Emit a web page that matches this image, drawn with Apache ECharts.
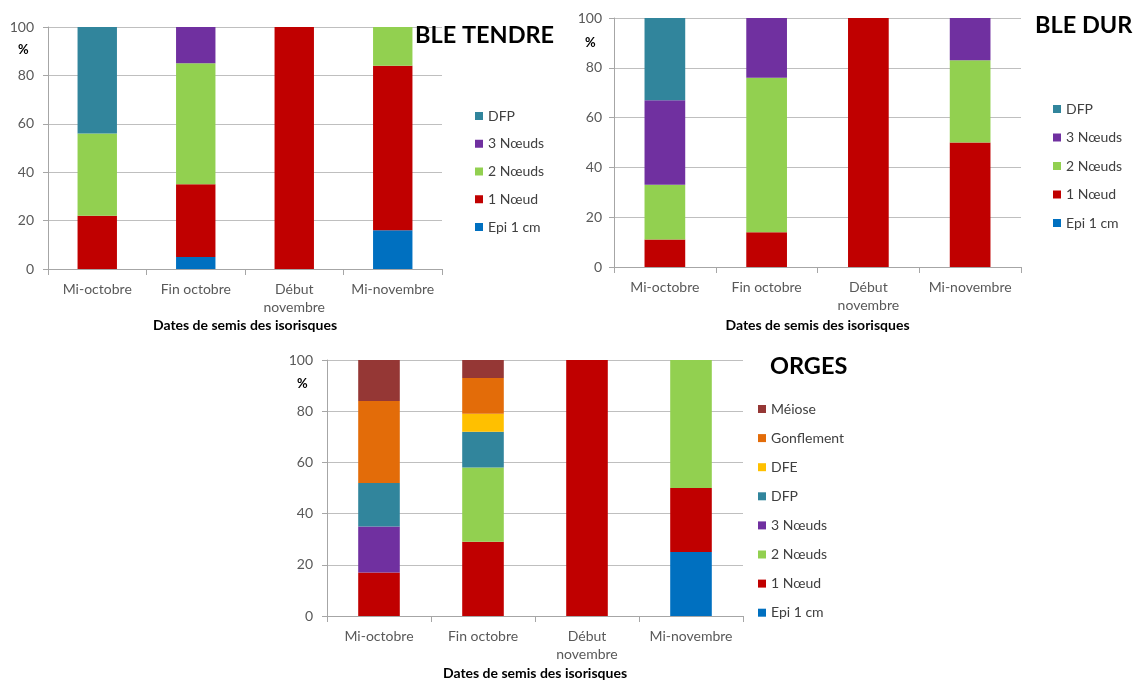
<!DOCTYPE html>
<html><head><meta charset="utf-8">
<script src="https://cdn.jsdelivr.net/npm/echarts@6/dist/echarts.min.js"></script>
<style>html,body{margin:0;padding:0;background:#fff}#c{width:1136px;height:681px}</style>
</head><body><div id="c"></div>
<script>
const categories = ['Mi-octobre', 'Fin octobre', 'Début\nnovembre', 'Mi-novembre'];
const yTicks = [0, 20, 40, 60, 80, 100];

// BLE TENDRE
const bt_epi = [0, 5, 0, 16];
const bt_n1 = [22, 30, 100, 68];
const bt_n2 = [34, 50, 0, 16];
const bt_n3 = [0, 15, 0, 0];
const bt_dfp = [44, 0, 0, 0];

// BLE DUR
const bd_epi = [0, 0, 0, 0];
const bd_n1 = [11, 14, 100, 50];
const bd_n2 = [22, 62, 0, 33];
const bd_n3 = [34, 24, 0, 17];
const bd_dfp = [33, 0, 0, 0];

// ORGES
const or_epi = [0, 0, 0, 25];
const or_n1 = [17, 29, 100, 25];
const or_n2 = [0, 29, 0, 50];
const or_n3 = [18, 0, 0, 0];
const or_dfp = [17, 14, 0, 0];
const or_dfe = [0, 7, 0, 0];
const or_gonf = [32, 14, 0, 0];
const or_meiose = [16, 7, 0, 0];

const colors = {
  'Epi 1 cm': '#0070C0', '1 Nœud': '#C00000', '2 Nœuds': '#92D050', '3 Nœuds': '#7030A0',
  'DFP': '#31859C', 'DFE': '#FFC000', 'Gonflement': '#E36C09', 'Méiose': '#953735'
};

const FONT = 'Lato, "Open Sans", sans-serif';
const grids = [
  {left: 48, top: 27, width: 394, height: 242},
  {left: 614, top: 18, width: 407, height: 249},
  {left: 327, top: 360, width: 416, height: 256}
];
const yLabelMargins = [14, 12, 14];
const nameGaps = [49, 51, 50];

function mkSeries(name, data, idx) {
  return {
    type: 'bar', name: name, data: data.map(v => v === 0 ? null : v),
    stack: 's' + idx, xAxisIndex: idx, yAxisIndex: idx,
    barWidth: '40%', itemStyle: {color: colors[name]}, emphasis: {disabled: true}
  };
}

const series = [
  mkSeries('Epi 1 cm', bt_epi, 0), mkSeries('1 Nœud', bt_n1, 0), mkSeries('2 Nœuds', bt_n2, 0),
  mkSeries('3 Nœuds', bt_n3, 0), mkSeries('DFP', bt_dfp, 0),
  mkSeries('Epi 1 cm', bd_epi, 1), mkSeries('1 Nœud', bd_n1, 1), mkSeries('2 Nœuds', bd_n2, 1),
  mkSeries('3 Nœuds', bd_n3, 1), mkSeries('DFP', bd_dfp, 1),
  mkSeries('Epi 1 cm', or_epi, 2), mkSeries('1 Nœud', or_n1, 2), mkSeries('2 Nœuds', or_n2, 2),
  mkSeries('3 Nœuds', or_n3, 2), mkSeries('DFP', or_dfp, 2), mkSeries('DFE', or_dfe, 2),
  mkSeries('Gonflement', or_gonf, 2), mkSeries('Méiose', or_meiose, 2)
];

const xAxes = grids.map((g, i) => ({
  type: 'category', gridIndex: i, data: categories,
  axisLine: {lineStyle: {color: '#A6A6A6'}},
  axisTick: {show: true, length: 6, lineStyle: {color: '#A6A6A6'}},
  axisLabel: {color: '#595959', fontSize: 14, fontFamily: FONT, margin: 11, lineHeight: 18, interval: 0},
  name: 'Dates de semis des isorisques', nameLocation: 'middle', nameGap: nameGaps[i],
  nameTextStyle: {fontWeight: 'bold', fontSize: 14, color: '#000', fontFamily: FONT}
}));
const yAxes = grids.map((g, i) => ({
  type: 'value', gridIndex: i, min: yTicks[0], max: yTicks[yTicks.length - 1], interval: 20,
  axisLine: {show: true, lineStyle: {color: '#A6A6A6'}},
  axisTick: {show: true, length: 5, lineStyle: {color: '#A6A6A6'}},
  splitLine: {lineStyle: {color: '#BFBFBF'}},
  axisLabel: {color: '#595959', fontSize: 14, fontFamily: FONT, margin: yLabelMargins[i]}
}));

const legendBase = {
  orient: 'vertical', icon: 'rect', itemWidth: 8, itemHeight: 8, padding: 0,
  textStyle: {fontSize: 14, color: '#404040', fontFamily: FONT, lineHeight: 14},
  selectedMode: false
};
const titleStyle = {fontSize: 23.5, fontWeight: 'bold', color: '#000', fontFamily: FONT};
const pctStyle = {fontSize: 13, fontWeight: 'bold', color: '#000', fontFamily: FONT};

const option = {
  animation: false,
  title: [
    {text: 'BLE TENDRE', left: 415, top: 23, padding: 0, textStyle: titleStyle},
    {text: 'BLE DUR', left: 1035, top: 13, padding: 0, textStyle: titleStyle},
    {text: 'ORGES', left: 770, top: 354, padding: 0, textStyle: titleStyle},
    {text: '%', left: 18, top: 43, padding: 0, textStyle: pctStyle},
    {text: '%', left: 585, top: 36, padding: 0, textStyle: pctStyle},
    {text: '%', left: 297, top: 377, padding: 0, textStyle: pctStyle}
  ],
  grid: grids,
  xAxis: xAxes,
  yAxis: yAxes,
  legend: [
    Object.assign({}, legendBase, {left: 475, top: 109, itemGap: 13.75, data: ['DFP', '3 Nœuds', '2 Nœuds', '1 Nœud', 'Epi 1 cm']}),
    Object.assign({}, legendBase, {left: 1053, top: 102, itemGap: 14.5, data: ['DFP', '3 Nœuds', '2 Nœuds', '1 Nœud', 'Epi 1 cm']}),
    Object.assign({}, legendBase, {left: 758, top: 402, itemGap: 15.1, data: ['Méiose', 'Gonflement', 'DFE', 'DFP', '3 Nœuds', '2 Nœuds', '1 Nœud', 'Epi 1 cm']})
  ],
  series: series
};
const chart = echarts.init(document.getElementById('c'), null, {renderer: 'canvas'});
chart.setOption(option);
</script>
</body></html>
